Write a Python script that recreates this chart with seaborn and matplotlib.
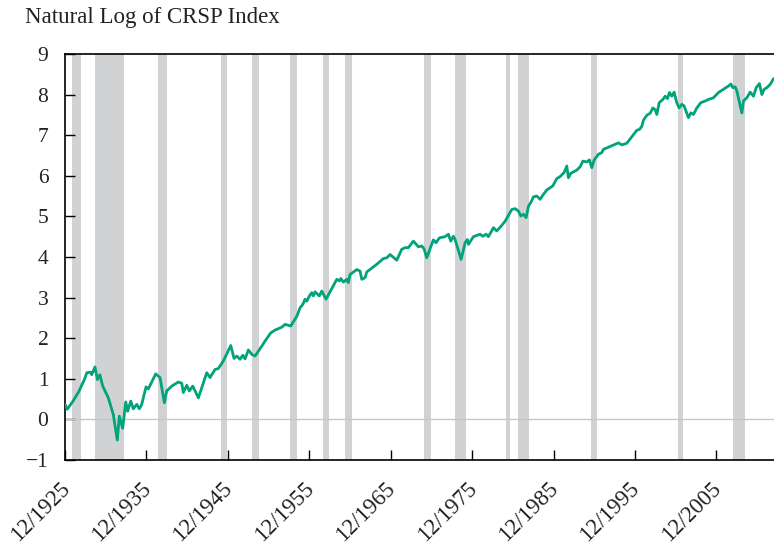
import pandas as pd
import matplotlib.pyplot as plt
import matplotlib.transforms as mtransforms
import seaborn as sns

#---------------------------------------------------------
f_out='out.png'

# decimal year, natural log of CRSP index
years=[1925.92, 1926.2, 1926.9, 1927.6, 1928.3, 1928.6, 1929.08, 1929.2, 1929.6, 1929.9,
	1930.2, 1930.55, 1930.83, 1931.24, 1931.85, 1932.34, 1932.59, 1933.0, 1933.38, 1933.62,
	1933.99, 1934.31, 1934.73, 1935.05, 1935.34, 1935.87, 1936.15, 1937.06, 1937.59, 1938.12,
	1938.41, 1939.03, 1939.84, 1940.26, 1940.45, 1940.87, 1941.19, 1941.61, 1942.3, 1943.33,
	1943.73, 1944.35, 1944.75, 1945.37, 1946.28, 1946.68, 1947.01, 1947.42, 1947.75, 1948.03,
	1948.44, 1948.86, 1949.26, 1950.08, 1950.49, 1951.19, 1951.72, 1952.54, 1952.95, 1953.65,
	1954.39, 1954.79, 1955.12, 1955.4, 1955.61, 1955.93, 1956.23, 1956.42, 1956.63, 1957.16,
	1957.45, 1957.98, 1959.3, 1959.62, 1959.79, 1960.11, 1960.53, 1960.72, 1960.93, 1961.76,
	1962.16, 1962.37, 1962.77, 1962.98, 1964.21, 1965.02, 1965.44, 1965.85, 1966.67, 1967.28,
	1967.69, 1968.09, 1968.71, 1969.32, 1969.74, 1970.02, 1970.35, 1971.16, 1971.49, 1971.9,
	1972.6, 1973.01, 1973.3, 1973.62, 1973.83, 1974.57, 1975.06, 1975.34, 1975.47, 1976.08,
	1976.9, 1977.23, 1977.64, 1977.92, 1978.54, 1978.95, 1979.57, 1979.97, 1980.8, 1981.2,
	1981.61, 1981.9, 1982.22, 1982.55, 1982.84, 1983.13, 1983.45, 1983.87, 1984.27, 1984.6,
	1985.1, 1985.83, 1986.32, 1986.73, 1987.22, 1987.55, 1987.75, 1988.04, 1988.78, 1989.19,
	1989.52, 1990.01, 1990.33, 1990.62, 1990.91, 1991.44, 1991.85, 1992.05, 1992.87, 1993.89,
	1994.31, 1994.92, 1995.54, 1996.15, 1996.47, 1996.77, 1996.97, 1997.38, 1997.79, 1998.12,
	1998.4, 1998.61, 1998.9, 1999.35, 1999.63, 1999.91, 2000.16, 2000.45, 2000.73, 2001.06,
	2001.35, 2001.68, 2001.96, 2002.49, 2002.79, 2003.11, 2003.52, 2004.01, 2004.54, 2004.95,
	2005.56, 2006.18, 2006.79, 2007.41, 2007.7, 2007.95, 2008.23, 2008.44, 2008.76, 2009.05,
	2009.25, 2009.66, 2010.07, 2010.48, 2010.81, 2011.21, 2011.51, 2011.79, 2012.12, 2012.53,
	2012.94]
log_idx=[0.37, 0.25, 0.45, 0.68, 0.98, 1.15, 1.16, 1.10, 1.29, 0.98,
	1.10, 0.82, 0.70, 0.53, 0.12, -0.51, 0.08, -0.22, 0.43, 0.20,
	0.45, 0.26, 0.37, 0.26, 0.37, 0.80, 0.75, 1.12, 1.03, 0.41,
	0.70, 0.82, 0.92, 0.89, 0.66, 0.84, 0.70, 0.82, 0.53, 1.15,
	1.03, 1.23, 1.25, 1.44, 1.82, 1.50, 1.56, 1.48, 1.58, 1.49,
	1.71, 1.60, 1.56, 1.80, 1.93, 2.13, 2.20, 2.27, 2.34, 2.30,
	2.54, 2.75, 2.83, 2.96, 2.91, 3.04, 3.12, 3.04, 3.14, 3.04,
	3.16, 2.96, 3.45, 3.41, 3.47, 3.38, 3.45, 3.37, 3.57, 3.69,
	3.65, 3.45, 3.49, 3.63, 3.82, 3.96, 3.98, 4.06, 3.92, 4.19,
	4.23, 4.23, 4.39, 4.25, 4.27, 4.20, 3.98, 4.42, 4.35, 4.47,
	4.50, 4.56, 4.39, 4.51, 4.43, 3.94, 4.35, 4.43, 4.31, 4.50,
	4.56, 4.51, 4.56, 4.50, 4.72, 4.64, 4.78, 4.88, 5.17, 5.19,
	5.13, 5.01, 5.05, 4.97, 5.25, 5.34, 5.48, 5.50, 5.42, 5.52,
	5.65, 5.75, 5.93, 5.98, 6.08, 6.24, 5.95, 6.06, 6.14, 6.22,
	6.36, 6.34, 6.39, 6.20, 6.39, 6.53, 6.57, 6.65, 6.72, 6.81,
	6.76, 6.80, 6.96, 7.12, 7.14, 7.22, 7.37, 7.49, 7.54, 7.67,
	7.63, 7.51, 7.80, 7.88, 7.96, 7.90, 8.05, 7.96, 8.06, 7.80,
	7.67, 7.76, 7.72, 7.43, 7.55, 7.51, 7.67, 7.80, 7.84, 7.88,
	7.92, 8.05, 8.13, 8.21, 8.26, 8.17, 8.19, 8.09, 7.80, 7.55,
	7.84, 7.92, 8.06, 7.96, 8.17, 8.27, 8.00, 8.13, 8.17, 8.25,
	8.39]

# NBER recessions (peak, trough)
rec_start=[1926.79, 1929.62, 1937.37, 1945.12, 1948.87, 1953.54, 1957.62, 1960.29,
	1969.96, 1973.87, 1980.04, 1981.54, 1990.54, 2001.21, 2007.96]
rec_end=[1927.87, 1933.21, 1938.46, 1945.79, 1949.79, 1954.37, 1958.29, 1961.12,
	1970.87, 1975.21, 1980.54, 1982.87, 1991.21, 2001.87, 2009.46]

xticks=[1925.92, 1935.92, 1945.92, 1955.92, 1965.92, 1975.92, 1985.92, 1995.92, 2005.92]
xtick_lbls=['12/1925', '12/1935', '12/1945', '12/1955', '12/1965', '12/1975', '12/1985', '12/1995', '12/2005']

#--------------------------------------------------------
df=pd.DataFrame({'year': years, 'ln': log_idx})

sns.set_style('ticks')
plt.rcParams['font.family']=['Liberation Serif', 'DejaVu Serif']

fig=plt.figure(figsize=(7.74, 5.45), dpi=100)
ax=fig.add_axes([0.084, 0.156, 0.916, 0.745])

#recession shading
for s, e in zip(rec_start, rec_end):
	ax.axvspan(s, e, color='#d1d2d4', lw=0, zorder=0)
ax.axhline(0, color='#c8c8c8', lw=1, zorder=1)

#plot
sns.lineplot(x='year', y='ln', data=df, color='#00a37a', lw=2, ax=ax, zorder=3)

#adjust
ax.set_xlim(1925.92, 2013.0)
ax.set_ylim(-1, 9)
ax.set_yticks(range(-1, 10))
ax.set_yticklabels(['\u22121']+[str(i) for i in range(0, 10)])
ax.set_xticks(xticks)
ax.set_xticklabels(xtick_lbls, rotation=45, ha='right', rotation_mode='anchor', fontsize=16.5)
ax.set_xlabel('')
ax.set_ylabel('')
ax.tick_params(axis='both', direction='in', length=7, width=1, color='black', labelcolor='#222222')
ax.tick_params(axis='y', labelsize=15.5, pad=12)
ax.tick_params(axis='x', pad=13)
shift=mtransforms.ScaledTranslation(-6/100, 0, fig.dpi_scale_trans)
for lbl in ax.get_xticklabels():
	lbl.set_transform(lbl.get_transform()+shift)
for sp in ['left', 'bottom', 'top']:
	ax.spines[sp].set_linewidth(1.2)
	ax.spines[sp].set_color('black')
ax.spines['right'].set_visible(False)

fig.text(0.032, 0.967, 'Natural Log of CRSP Index', fontsize=16.5, color='#222222', ha='left', va='center')

#save
plt.savefig(f_out, dpi=100)
plt.close()
